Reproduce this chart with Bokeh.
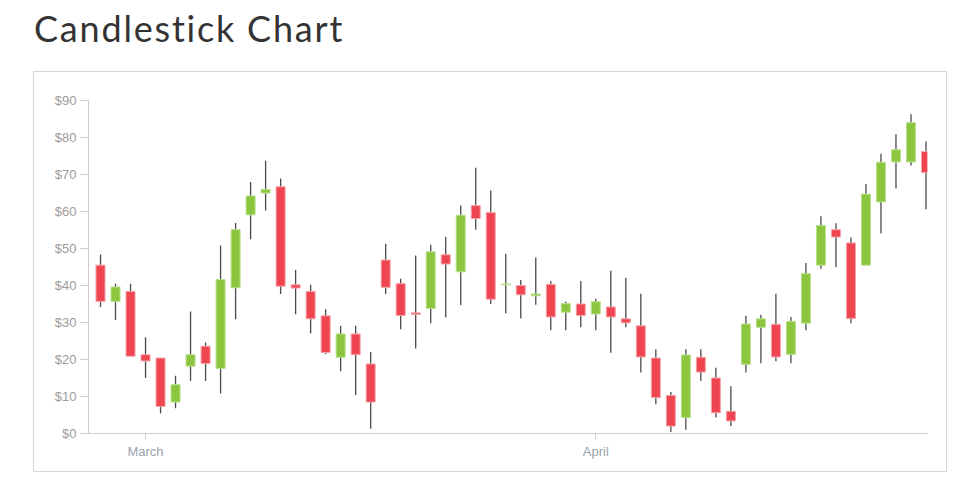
from bokeh.plotting import figure
from bokeh.models import ColumnDataSource, Div, FixedTicker, NumeralTickFormatter
from bokeh.layouts import column
from bokeh.embed import file_html
from bokeh.resources import INLINE

# daily candles, late February through early May
opens = [45.5, 35.7, 38.4, 21.3, 20.4, 8.5, 18.2, 23.6, 17.6, 39.4,
         59.1, 65.0, 66.7, 40.2, 38.4, 31.8, 20.6, 26.9, 18.8, 46.9,
         40.5, 32.6, 33.8, 48.3, 43.7, 61.6, 59.7, 40.2, 40.0, 37.2,
         40.3, 32.8, 35.0, 32.3, 34.2, 31.0, 29.1, 20.4, 10.3, 4.3,
         20.6, 15.0, 6.0, 18.7, 28.7, 29.5, 21.4, 29.8, 45.5, 55.1,
         51.5, 45.5, 62.6, 73.4, 73.4, 76.2]
highs = [48.4, 40.5, 40.5, 26.0, 20.4, 15.6, 33.0, 24.6, 50.8, 56.9,
         68.0, 73.7, 68.9, 44.2, 40.2, 33.6, 29.1, 29.1, 22.0, 51.3,
         41.8, 48.1, 51.0, 53.2, 61.6, 71.8, 65.7, 48.6, 41.5, 47.6,
         41.2, 35.6, 41.2, 36.4, 44.0, 42.1, 37.8, 22.8, 11.2, 22.8,
         22.8, 17.8, 12.8, 31.8, 32.1, 37.8, 31.5, 46.1, 58.7, 56.8,
         53.0, 67.4, 75.6, 80.9, 86.3, 78.9]
lows = [34.2, 30.7, 20.8, 15.0, 5.4, 6.8, 14.2, 14.2, 10.8, 30.9,
        52.5, 60.3, 37.7, 32.2, 27.0, 21.5, 16.8, 10.4, 1.3, 37.7,
        28.2, 23.0, 29.8, 31.4, 34.7, 55.1, 35.0, 32.5, 31.1, 34.8,
        27.9, 27.9, 28.7, 27.9, 21.8, 28.7, 16.5, 7.9, 0.4, 1.0,
        14.2, 4.3, 2.0, 16.5, 19.0, 19.5, 19.0, 27.9, 44.5, 44.9,
        29.8, 45.5, 54.1, 66.2, 72.4, 60.6]
closes = [35.7, 39.6, 20.9, 19.6, 7.3, 13.2, 21.3, 18.9, 41.6, 55.1,
          64.2, 66.0, 39.8, 39.3, 31.0, 21.9, 26.9, 21.3, 8.5, 39.5,
          31.9, 32.2, 49.1, 45.8, 59.0, 58.1, 36.3, 40.4, 37.5, 37.7,
          31.5, 35.1, 31.9, 35.6, 31.5, 29.9, 20.7, 9.7, 2.0, 21.2,
          16.6, 5.6, 3.4, 29.6, 31.0, 20.7, 30.3, 43.2, 56.2, 53.1,
          31.1, 64.7, 73.3, 76.7, 84.0, 70.5]

month_ticks = [3, 33]
month_labels = ["March", "April"]
price_ticks = [0, 10, 20, 30, 40, 50, 60, 70, 80, 90]

UP = "#8cc63f"
DOWN = "#ef4550"

days = list(range(len(opens)))
up = [c >= o for o, c in zip(opens, closes)]
src = ColumnDataSource(dict(
    day=days,
    high=highs,
    low=lows,
    top=[max(o, c) for o, c in zip(opens, closes)],
    bottom=[min(o, c) for o, c in zip(opens, closes)],
    fill=[UP if u else DOWN for u in up],
    edge=["#b9e08a" if u else "#f6a3aa" for u in up],
))

p = figure(width=914, height=401, x_range=(-0.8, 55.1), y_range=(0, 90),
           output_backend="svg", toolbar_location=None,
           min_border_left=54, min_border_right=21,
           min_border_top=28, min_border_bottom=40,
           margin=(0, 0, 0, 33))
p.styles = {"border": "1px solid #d6d6d6"}
p.outline_line_color = None
p.grid.visible = False

# wicks, then bodies on top
p.segment(x0="day", y0="low", x1="day", y1="high", source=src,
          line_color="#4a4a4a", line_width=1.3)
p.vbar(x="day", width=0.6, top="top", bottom="bottom", source=src,
       fill_color="fill", line_color="edge", line_width=1)

for ax in (p.xaxis, p.yaxis):
    ax.axis_line_color = "#cccccc"
    ax.major_tick_line_color = "#cccccc"
    ax.minor_tick_line_color = None
    ax.major_tick_in = 0
    ax.major_label_text_color = "#a09a9a"
    ax.major_label_text_font = "Liberation Sans"
    ax.major_label_text_font_size = "13px"
    ax.major_label_standoff = 4

p.yaxis.ticker = FixedTicker(ticks=price_ticks)
p.yaxis.formatter = NumeralTickFormatter(format="$0")
p.yaxis.major_tick_out = 8

p.xaxis.ticker = FixedTicker(ticks=month_ticks)
p.xaxis.major_label_overrides = dict(zip(month_ticks, month_labels))
p.xaxis.major_tick_out = 6
p.xaxis.major_label_text_color = "#9aa3ad"

title = Div(text="Candlestick Chart", width=600, height=63, margin=(8, 0, 0, 0),
            styles={"font-family": "Lato", "font-size": "36px",
                    "color": "#333333", "line-height": "36px",
                    "letter-spacing": "1.8px", "padding-left": "34px",
                    "padding-top": "2px"})

layout = column(title, p, spacing=0)

open("out.html", "w").write(file_html(layout, INLINE))
